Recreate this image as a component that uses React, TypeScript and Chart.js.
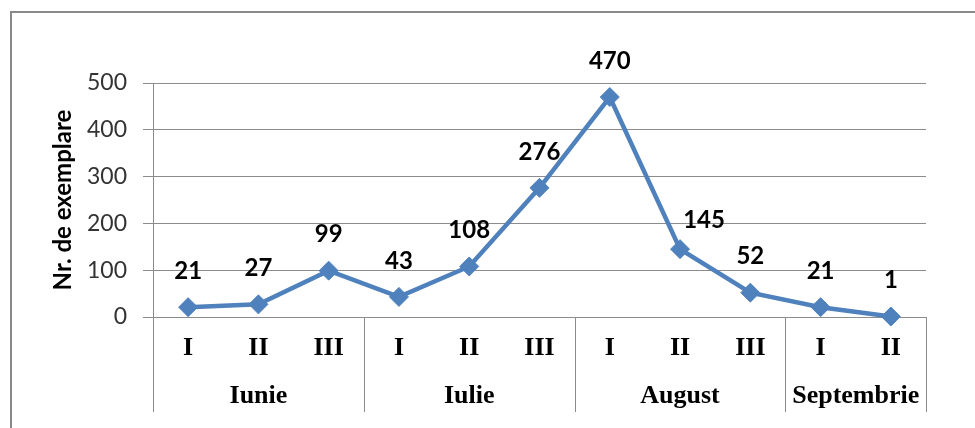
import React, { useEffect, useRef } from 'react';
import { Chart, registerables } from 'chart.js';

Chart.register(...registerables);

const subLabels = ['I', 'II', 'III', 'I', 'II', 'III', 'I', 'II', 'III', 'I', 'II'];
const values = [21, 27, 99, 43, 108, 276, 470, 145, 52, 21, 1];
const months = ['Iunie', 'Iulie', 'August', 'Septembrie'];
const monthSpans = [3, 3, 3, 2];
const yMin = 0;
const yMax = 500;
const yStep = 100;
const yTitle = 'Nr. de exemplare';

const GRID = '#8c8c8c';
const LINE = '#4F81BD';
// label placement style tweaks (pixels), keyed by point index
const LABEL_NUDGE: Record<number, [number, number]> = { 7: [24, 7] };

function monthCenters(): number[] {
  const out: number[] = [];
  let s = 0;
  monthSpans.forEach((sp) => {
    out.push(s + (sp - 1) / 2);
    s += sp;
  });
  return out;
}

function monthBounds(): number[] {
  const out: number[] = [-0.5];
  let s = 0;
  monthSpans.forEach((sp) => {
    s += sp;
    out.push(s - 0.5);
  });
  return out;
}

const groupPlugin = {
  id: 'groupSeparators',
  afterDraw(chart: any) {
    const x = chart.scales.x;
    const x2 = chart.scales.x2;
    const ctx = chart.ctx;
    ctx.save();
    ctx.strokeStyle = GRID;
    ctx.lineWidth = 1;
    monthBounds().forEach((b) => {
      const px = Math.round(x.getPixelForValue(b)) + 0.5;
      ctx.beginPath();
      ctx.moveTo(px, chart.chartArea.bottom);
      ctx.lineTo(px, x2.bottom);
      ctx.stroke();
    });
    ctx.restore();
  },
};

const labelPlugin = {
  id: 'pointLabels',
  afterDatasetsDraw(chart: any) {
    const ctx = chart.ctx;
    const meta = chart.getDatasetMeta(0);
    ctx.save();
    ctx.font = 'bold 24px Lato';
    ctx.fillStyle = '#000';
    ctx.textAlign = 'center';
    ctx.textBaseline = 'middle';
    meta.data.forEach((pt: any, i: number) => {
      const [dx, dy] = LABEL_NUDGE[i] || [0, 0];
      ctx.fillText(String(values[i]), pt.x + dx, pt.y - 36 + dy);
    });
    ctx.restore();
  },
};

export default function App() {
  const ref = useRef<HTMLCanvasElement | null>(null);

  useEffect(() => {
    if (!ref.current) return;
    const centers = monthCenters();
    const chart = new Chart(ref.current, {
      type: 'line',
      data: {
        labels: subLabels.map((l, i) => l + '_' + i),
        datasets: [
          {
            data: values,
            borderColor: LINE,
            backgroundColor: LINE,
            borderWidth: 4.5,
            tension: 0,
            clip: false,
            pointStyle: 'rectRot',
            pointRadius: 9.5,
            pointBorderWidth: 1,
            pointBackgroundColor: LINE,
            pointBorderColor: LINE,
          },
        ],
      },
      options: {
        responsive: false,
        animation: false,
        devicePixelRatio: 1,
        layout: { padding: { top: 83, left: 0, right: 49, bottom: 16 } },
        plugins: {
          legend: { display: false },
          tooltip: { enabled: false },
        },
        scales: {
          x: {
            type: 'category',
            offset: true,
            weight: 0,
            afterFit: (s: any) => {
              s.height = 55;
            },
            grid: { display: false, drawTicks: false },
            border: { display: true, color: GRID },
            ticks: {
              autoSkip: false,
              maxRotation: 0,
              padding: 16,
              color: '#000',
              font: { family: 'Liberation Serif', weight: 'bold', size: 26 },
              callback: (_v: any, i: number) => subLabels[i],
            },
          },
          x2: {
            type: 'linear',
            position: 'bottom',
            weight: 1,
            min: -0.5,
            max: subLabels.length - 0.5,
            afterFit: (s: any) => {
              s.height = 40;
            },
            afterBuildTicks: (s: any) => {
              s.ticks = centers.map((v) => ({ value: v }));
            },
            grid: { display: false, drawTicks: false },
            border: { display: false },
            ticks: {
              autoSkip: false,
              maxRotation: 0,
              padding: 9,
              color: '#000',
              font: { family: 'Liberation Serif', weight: 'bold', size: 26 },
              callback: (v: any) => {
                const idx = centers.indexOf(Number(v));
                return idx >= 0 ? months[idx] : '';
              },
            },
          },
          y: {
            min: yMin,
            max: yMax,
            afterFit: (s: any) => {
              s.width = 153;
            },
            grid: { color: GRID, lineWidth: 1, tickLength: 10 },
            border: { display: true, color: GRID },
            ticks: {
              stepSize: yStep,
              padding: 16,
              color: '#333',
              font: { family: 'Lato', size: 23 },
            },
            title: {
              display: true,
              text: yTitle,
              color: '#000',
              padding: { top: 49, bottom: 0 },
              font: { family: 'Lato', weight: 'bold', size: 24 },
            },
          },
        },
      },
      plugins: [groupPlugin, labelPlugin],
    });
    return () => chart.destroy();
  }, []);

  return (
    <div
      style={{
        position: 'fixed',
        left: 0,
        top: 0,
        width: 975,
        height: 428,
        overflow: 'hidden',
        background: '#fff',
      }}
    >
      <div
        style={{
          position: 'absolute',
          left: 10,
          top: 11,
          width: 1100,
          height: 600,
          borderTop: '2px solid #898989',
          borderLeft: '2px solid #898989',
        }}
      />
      <canvas
        ref={ref}
        width={975}
        height={428}
        style={{ position: 'absolute', left: 0, top: 0, width: 975, height: 428 }}
      />
    </div>
  );
}
